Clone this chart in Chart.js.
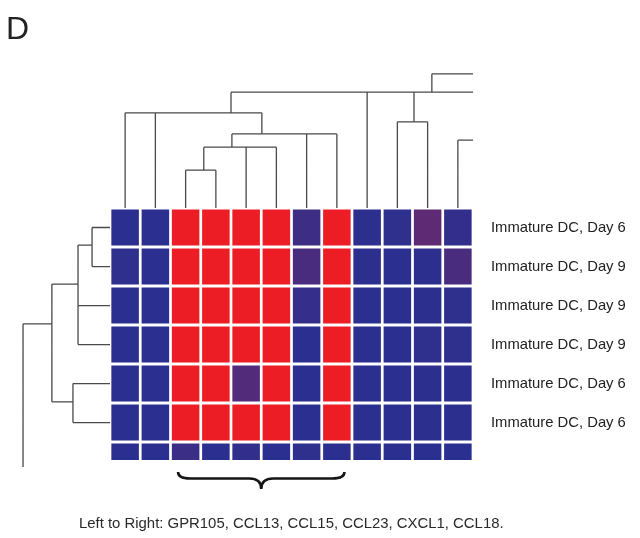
<!DOCTYPE html>
<html>
<head>
<meta charset="utf-8">
<script src="https://cdn.jsdelivr.net/npm/chart.js@4/dist/chart.umd.min.js"></script>
<style>
  body { margin: 0; background: #fff; overflow: hidden; }
  #wrap { width: 640px; height: 538px; position: relative; }
</style>
</head>
<body>
<div id="wrap"><canvas id="heatmap"></canvas></div>
<script>
// columns (genes) of the heatmap, left to right
const colIds = ['g1', 'g2', 'g3', 'g4', 'g5', 'g6', 'g7', 'g8', 'g9', 'g10', 'g11', 'g12'];

// row labels (right side); the 7th row is cut off in the figure
const rowLabels = [
  'Immature DC, Day 6',
  'Immature DC, Day 9',
  'Immature DC, Day 9',
  'Immature DC, Day 9',
  'Immature DC, Day 6',
  'Immature DC, Day 6'
];

// expression, 0 = low (blue) .. 1 = high (red)
const heat = [
  [0.00, 0.00, 1, 1, 1, 1, 0.10, 1, 0.01, 0.02, 0.26, 0.04],
  [0.02, 0.00, 1, 1, 1, 1, 0.16, 1, 0.01, 0.00, 0.01, 0.16],
  [0.00, 0.00, 1, 1, 1, 1, 0.05, 1, 0.00, 0.00, 0.01, 0.02],
  [0.00, 0.00, 1, 1, 1, 1, 0.00, 1, 0.00, 0.00, 0.02, 0.02],
  [0.00, 0.00, 1, 1, 0.20, 1, 0.00, 1, 0.00, 0.00, 0.01, 0.01],
  [0.00, 0.00, 1, 1, 1, 1, 0.00, 1, 0.00, 0.00, 0.01, 0.01],
  [0.00, 0.00, 0.08, 0.00, 0.03, 0.00, 0.02, 0.00, 0.00, 0.00, 0.00, 0.00]
];

// top dendrogram: [merge height, [[column position, child height], ...]]
const topLinks = [
  [0.97, [[2, 0], [3, 0]]],
  [1.56, [[2.6, 0.97], [4, 0], [5, 0]]],
  [1.90, [[3.53, 1.56], [6, 0], [7, 0]]],
  [2.44, [[0, 0], [1, 0], [4.52, 1.90]]],
  [2.21, [[9, 0], [10, 0]]],
  [2.97, [[3.5, 2.44], [8, 0], [9.55, 2.21], [11.5, 2.97]]],
  [3.44, [[10.14, 2.97], [11.5, 3.44]]],
  [1.74, [[11, 0], [11.5, 1.74]]]
];

// left dendrogram: [merge distance, [[row position, child distance], ...]]
const leftLinks = [
  [0.46, [[0, 0], [1, 0]]],
  [0.82, [[0.45, 0.46], [2, 0], [3, 0]]],
  [0.95, [[4, 0], [5, 0]]],
  [1.49, [[1.45, 0.82], [4.47, 0.95]]],
  [2.23, [[2.47, 1.49], [6.14, 2.23]]]
];

// genes under the brace
const braceCols = [2, 7];
const caption = 'Left to Right: GPR105, CCL13, CCL15, CCL23, CXCL1, CCL18.';
const panelLabel = 'D';

const low = [43, 47, 143];
const high = [236, 29, 36];
function cellColor(v) {
  const c = low.map((l, k) => Math.round(l + (high[k] - l) * v));
  return 'rgb(' + c.join(',') + ')';
}

function linkSegments(links, toPoint) {
  const pts = [];
  const gap = { x: 0, y: null };
  links.forEach(([h, kids]) => {
    kids.forEach(([p, ch]) => {
      pts.push(toPoint(p, ch), toPoint(p, h), gap);
    });
    const ps = kids.map(k => k[0]);
    pts.push(toPoint(Math.min(...ps), h), toPoint(Math.max(...ps), h), gap);
  });
  return pts;
}

const gapHalf = 0.04;
const rowSets = heat.map((vals, i) => ({
  type: 'bar',
  data: vals.map(() => [-(i + 1) + gapHalf, -i - gapHalf]),
  backgroundColor: vals.map(cellColor),
  borderWidth: 0,
  grouped: false,
  barPercentage: 0.91,
  categoryPercentage: 1,
  clip: 0,
  xAxisID: 'x',
  yAxisID: 'y'
}));

const lineStyle = {
  type: 'line',
  borderColor: '#4a4a4a',
  borderWidth: 1.3,
  pointRadius: 0,
  spanGaps: false,
  clip: false,
  yAxisID: 'y'
};

const topTree = Object.assign({}, lineStyle, {
  data: linkSegments(topLinks, (p, h) => ({ x: p, y: h })),
  xAxisID: 'xl'
});
const leftTree = Object.assign({}, lineStyle, {
  data: linkSegments(leftLinks, (p, d) => ({ x: d, y: -(p + 0.5) })),
  xAxisID: 'xd'
});

const extras = {
  id: 'extras',
  afterDraw(chart) {
    const ctx = chart.ctx;
    const area = chart.chartArea;
    const xl = chart.scales.xl;
    ctx.save();
    ctx.fillStyle = '#222';
    ctx.font = '32px "Liberation Sans", Arial, sans-serif';
    ctx.textBaseline = 'alphabetic';
    ctx.fillText(panelLabel, 6, 39);

    ctx.fillStyle = '#2a2a2a';
    ctx.font = '14.9px "Liberation Sans", Arial, sans-serif';
    ctx.fillText(caption, 79, 528);

    // curly brace under the selected columns
    const L = xl.getPixelForValue(braceCols[0] - 0.25);
    const R = xl.getPixelForValue(braceCols[1] + 0.25);
    const C = (L + R) / 2;
    const top = area.bottom + 12, mid = area.bottom + 18.5, tip = area.bottom + 29, r = 12;
    ctx.strokeStyle = '#151515';
    ctx.lineWidth = 2.6;
    ctx.beginPath();
    ctx.moveTo(L, top);
    ctx.quadraticCurveTo(L, mid, L + r, mid);
    ctx.lineTo(C - r, mid);
    ctx.quadraticCurveTo(C, mid, C, tip);
    ctx.quadraticCurveTo(C, mid, C + r, mid);
    ctx.lineTo(R - r, mid);
    ctx.quadraticCurveTo(R, mid, R, top);
    ctx.stroke();
    ctx.restore();
  }
};

Chart.defaults.font.family = '"Liberation Sans", Arial, sans-serif';

new Chart(document.getElementById('heatmap'), {
  type: 'bar',
  data: {
    labels: colIds,
    datasets: rowSets.concat([topTree, leftTree])
  },
  options: {
    responsive: true,
    maintainAspectRatio: false,
    animation: false,
    events: [],
    layout: { padding: { top: 71.5, bottom: 78, left: 110, right: 0 } },
    plugins: { legend: { display: false }, tooltip: { enabled: false } },
    scales: {
      x: { type: 'category', display: false, offset: true },
      xl: { type: 'linear', display: false, offset: false, min: -0.5, max: 11.5 },
      xd: { type: 'linear', display: false, offset: false, reverse: true, min: -9.308, max: 0 },
      y: {
        type: 'linear',
        position: 'right',
        min: -6.46,
        max: 3.5,
        grid: { display: false, drawTicks: false },
        border: { display: false },
        afterBuildTicks: scale => {
          scale.ticks = rowLabels.map((_, i) => ({ value: -(i + 0.5) }));
        },
        afterFit: scale => { scale.width = 167; },
        ticks: {
          autoSkip: false,
          padding: 18,
          color: '#222',
          font: { size: 14.8 },
          callback: (value, index) => rowLabels[index]
        }
      }
    }
  },
  plugins: [extras]
});
</script>
</body>
</html>
